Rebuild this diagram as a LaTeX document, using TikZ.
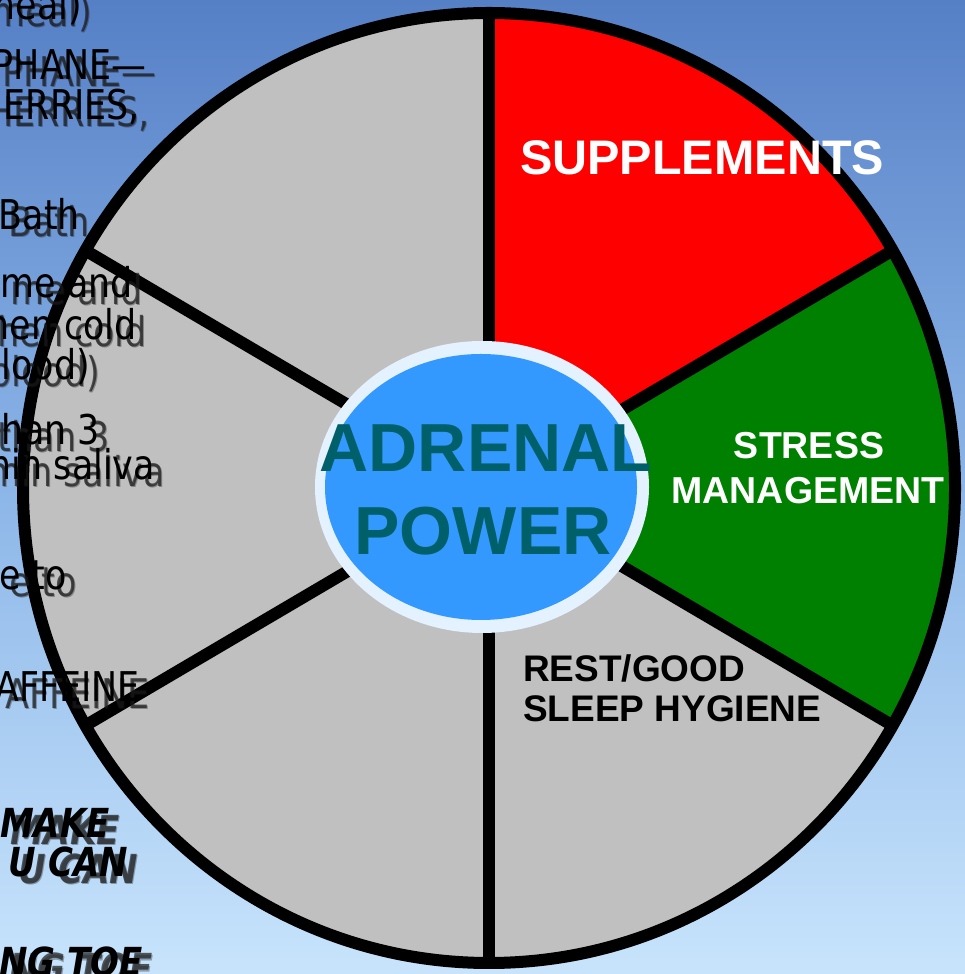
\documentclass[tikz,border=0pt]{standalone}
\usepackage{fontspec}
\setmainfont{Liberation Sans}
\newfontfamily\fragfont{DejaVu Sans}
\usetikzlibrary{calc}

\definecolor{skytop}{RGB}{86,128,198}
\definecolor{skymid}{RGB}{140,182,232}
\definecolor{skybot}{RGB}{200,228,252}
\definecolor{slicered}{RGB}{255,0,0}
\definecolor{slicegreen}{RGB}{0,128,0}
\definecolor{slicegray}{RGB}{192,192,192}
\definecolor{hubring}{RGB}{228,242,255}
\definecolor{hubblue}{RGB}{51,153,255}
\definecolor{hubtext}{RGB}{0,96,106}

\tikzset{
  rim/.style={line width=12pt, draw=black},
  spoke/.style={line width=12pt, draw=black, line cap=butt},
  hubtitle/.style={inner sep=0pt, anchor=base, text=hubtext,
    font=\fontsize{68}{68}\selectfont\bfseries},
  slicelabel/.style={inner sep=0pt, font=\fontsize{37.5}{37.5}\selectfont\bfseries},
  fragmain/.style={inner sep=0pt, anchor=base east, text=black},
  fragshade/.style={inner sep=0pt, anchor=base east, text=black!90, opacity=0.7},
  fragreg/.style={font=\fragfont\fontsize{41}{41}\selectfont},
  fragbold/.style={font=\fragfont\fontsize{40}{40}\selectfont\bfseries\itshape},
}

% text with a soft drop shadow: #1 name, #2 position, #3 style, #4 text
\newcommand\shadowtext[4]{%
  \node[fragshade,#3] (#1s) at ($(#2)+(10,-7)$) {\scalebox{0.85}[1]{#4}};
  \node[fragshade,#3,opacity=0.35] (#1t) at ($(#2)+(11,-8)$) {\scalebox{0.85}[1]{#4}};
  \node[fragmain,#3] (#1) at (#2) {\scalebox{0.85}[1]{#4}};
}

\begin{document}
\begin{tikzpicture}[x=1pt,y=1pt]
  \useasboundingbox (0,0) rectangle (965,974);
  \clip (0,0) rectangle (965,974);

  % sky background
  \shade[top color=skytop, bottom color=skybot, middle color=skymid]
    (0,0) rectangle (965,974);

  % wheel
  \coordinate (C) at (489,486);
  \fill[slicegray] (C) ellipse [x radius=466, y radius=475];
  \fill[slicered] (C) -- ($(C)+(30:466 and 475)$)
    arc[start angle=30, end angle=90, x radius=466, y radius=475] -- cycle;
  \fill[slicegreen] (C) -- ($(C)+(-30:466 and 475)$)
    arc[start angle=-30, end angle=30, x radius=466, y radius=475] -- cycle;
  \foreach \a/\n in {90/a,30/b,-30/c,-90/d,150/e,210/f}{
    \coordinate (rim\n) at ($(C)+(\a:466 and 475)$);
    \draw[spoke] (C) -- (rim\n);
  }
  \draw[rim] (C) ellipse [x radius=466, y radius=475];

  % hub
  \fill[hubring] (482,487) ellipse [x radius=167, y radius=146];
  \fill[hubblue] (481,487) ellipse [x radius=156, y radius=133];
  \node[hubtitle] (adrenal) at (486,502) {ADRENAL};
  \node[hubtitle] (power) at (483,419) {POWER};

  % slice labels
  \node[inner sep=0pt, anchor=base west, text=white,
    font=\fontsize{48.5}{48.5}\selectfont\bfseries] (supp) at (520,799) {SUPPLEMENTS};
  \node[slicelabel, anchor=base, text=white] (stress) at (809,515) {STRESS};
  \node[slicelabel, anchor=base, text=white] (mgmt) at (808,470) {MANAGEMENT};
  \node[slicelabel, anchor=base west, text=black,
    font=\fontsize{37}{37}\selectfont\bfseries] (rest) at (523,292) {REST/GOOD};
  \node[slicelabel, anchor=base west, text=black,
    font=\fontsize{37}{37}\selectfont\bfseries] (sleep) at (523,252) {SLEEP HYGIENE};

  % notes running in from the left
  \coordinate (p1) at (82,954);
  \coordinate (p2) at (147,894);
  \coordinate (p3) at (140,854);
  \coordinate (p4) at (80,744);
  \coordinate (p5) at (133,676);
  \coordinate (p6) at (137,634);
  \coordinate (p7) at (90,594);
  \coordinate (p8) at (100,529);
  \coordinate (p9) at (155,494);
  \coordinate (p10) at (67,384);
  \coordinate (p11) at (140,272);
  \coordinate (p12) at (110,136);
  \coordinate (p13) at (128,97);
  \coordinate (p14) at (143,-2);
  \shadowtext{n1}{p1}{fragreg}{meal)}
  \shadowtext{n2}{p2}{fragreg}{PHANE—}
  \shadowtext{n3}{p3}{fragreg}{HERRIES,}
  \shadowtext{n4}{p4}{fragreg}{Bath}
  \shadowtext{n5}{p5}{fragreg}{me and}
  \shadowtext{n6}{p6}{fragreg}{hen cold}
  \shadowtext{n7}{p7}{fragreg}{blood)}
  \shadowtext{n8}{p8}{fragreg}{than 3}
  \shadowtext{n9}{p9}{fragreg}{min saliva}
  \shadowtext{n10}{p10}{fragreg}{e to}
  \shadowtext{n11}{p11}{fragreg}{AFFEINE}
  \shadowtext{n12}{p12}{fragbold}{MAKE}
  \shadowtext{n13}{p13}{fragbold}{U CAN}
  \shadowtext{n14}{p14}{fragbold}{NG TOE}
\end{tikzpicture}
\end{document}
